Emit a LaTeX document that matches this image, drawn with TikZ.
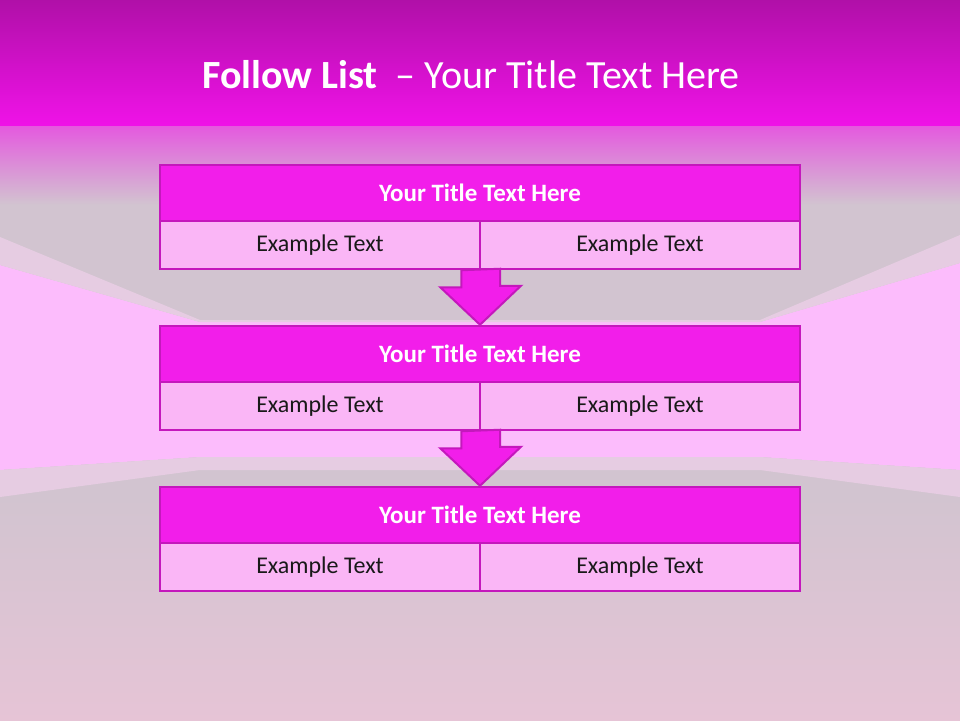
\documentclass[tikz,border=0pt]{standalone}
\usepackage{fontspec}
\setmainfont{Carlito}
\usetikzlibrary{calc}

\definecolor{banner}{HTML}{B010A8}
\definecolor{bannerlo}{HTML}{F012E8}
\definecolor{roomgray}{HTML}{D2C4D0}
\definecolor{floorpink}{HTML}{E6C4D6}
\definecolor{wallpink}{HTML}{FCBCFC}
\definecolor{wallband}{HTML}{E6CCE2}
\definecolor{boxline}{HTML}{C418BC}
\definecolor{headfill}{HTML}{F21EEA}
\definecolor{rowfill}{HTML}{FAB6F6}

\tikzset{
  headbox/.style={draw=boxline,line width=2.5pt,fill=headfill,minimum width=640pt,minimum height=56pt,
    inner sep=0pt,text=white,font=\fontsize{25}{30}\selectfont\bfseries},
  rowbox/.style={draw=boxline,line width=2.5pt,fill=rowfill,minimum width=320pt,minimum height=48pt,
    inner sep=0pt,text=black!90,font=\fontsize{24}{29}\selectfont},
  flowarrow/.style={draw=boxline,line width=2pt,fill=headfill,line join=miter}
}

\begin{document}
\begin{tikzpicture}[x=1pt,y=-1pt]
        % room
        \useasboundingbox (0,0) rectangle (960,720);
        \fill[roomgray] (0,0) rectangle (960,500);
        \shade[top color=roomgray,bottom color=floorpink] (0,497) rectangle (960,720);
        \fill[wallpink] (0,265) -- (200,322) -- (760,322) -- (960,263) -- (960,470) -- (760,457) -- (200,457) -- (0,470) -- cycle;
        \fill[wallband] (0,237) -- (200,320) -- (760,320) -- (960,235) -- (960,263) -- (760,322) -- (200,322) -- (0,265) -- cycle;
        \fill[wallband] (0,470) -- (200,457) -- (760,457) -- (960,470) -- (960,497) -- (760,470) -- (200,470) -- (0,497) -- cycle;

        % banner
        \shade[top color=banner,bottom color=bannerlo] (0,0) rectangle (960,126);
        \shade[top color=bannerlo!60!roomgray,bottom color=roomgray] (0,126) rectangle (960,205);
        \node[anchor=base,text=white,font=\fontsize{40}{48}\selectfont] (heading) at (471,88)
          {\textbf{Follow List}\ \ – Your Title Text Here};

        % three boxes
        \foreach \i/\y in {1/165,2/326,3/487} {
          \node[headbox] (title\i) at (480,\y+28) {Your Title Text Here};
          \node[rowbox] (exa\i) at (320,\y+80) {Example Text};
          \node[rowbox] (exb\i) at (640,\y+80) {Example Text};
        }

        % arrows between boxes
        \foreach \i/\j in {1/2,2/3} {
          \draw[flowarrow] ($(exa\i.south east)+(-20,0)$) -- ++(0,17) -- ++(-21,0)
            -- (title\j.north) -- ++(41,-39) -- ++(-21,0) -- ++(0,-17) -- cycle;
        }
\end{tikzpicture}
\end{document}
